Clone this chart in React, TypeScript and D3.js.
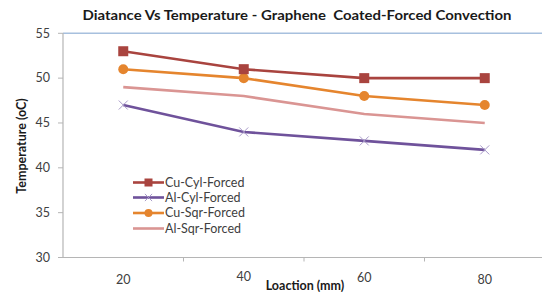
import React from "react";
import * as d3 from "d3";

const categories = ["20", "40", "60", "80"];
const yTicks = [30, 35, 40, 45, 50, 55];
const cuCyl = [53, 51, 50, 50];
const alCyl = [47, 44, 43, 42];
const cuSqr = [51, 50, 48, 47];
const alSqr = [49, 48, 46, 45];
const seriesNames = ["Cu-Cyl-Forced", "Al-Cyl-Forced", "Cu-Sqr-Forced", "Al-Sqr-Forced"];

const W = 543, H = 292;
const left = 63, right = 545, top = 33.3, bottom = 257.5;
const FONT = "Lato, 'Liberation Sans', sans-serif";

export default function App() {
  const x = d3.scaleBand<string>().domain(categories).range([left, right]);
  const y = d3.scaleLinear().domain([30, 55]).range([bottom, top]);
  const cx = (c: string) => (x(c) as number) + x.bandwidth() / 2;
  const line = d3.line<number>().x((_, i) => cx(categories[i])).y((d) => y(d));

  const series = [
    { name: seriesNames[0], data: cuCyl, color: "#A9443F", marker: "square" },
    { name: seriesNames[1], data: alCyl, color: "#6F529B", marker: "cross" },
    { name: seriesNames[2], data: cuSqr, color: "#E5852E", marker: "circle" },
    { name: seriesNames[3], data: alSqr, color: "#DA9593", marker: "none" },
  ];
  const drawOrder = [3, 1, 2, 0];

  const marker = (m: string, color: string, px: number, py: number, key: string, s = 1) => {
    if (m === "square") return <rect key={key} x={px - 5 * s} y={py - 5 * s} width={10 * s} height={10 * s} fill={color} />;
    if (m === "circle") return <circle key={key} cx={px} cy={py} r={5 * s} fill={color} />;
    if (m === "cross")
      return (
        <g key={key} stroke="#A99BC9" strokeWidth={1}>
          <line x1={px - 4.5 * s} y1={py - 4.5 * s} x2={px + 4.5 * s} y2={py + 4.5 * s} />
          <line x1={px - 4.5 * s} y1={py + 4.5 * s} x2={px + 4.5 * s} y2={py - 4.5 * s} />
        </g>
      );
    return null;
  };

  const legendY = [182.5, 197.5, 213, 228.5];

  return (
    <svg width={W} height={H} style={{ position: "absolute", left: 0, top: 0 }} fontFamily={FONT}>
      <rect width={W} height={H} fill="#fff" />
      <text x={297} y={20} textAnchor="middle" fontSize={13.5} fontWeight="bold" fill="#1a1a1a"
        textLength={429} lengthAdjust="spacingAndGlyphs" style={{ whiteSpace: "pre" }}>
        {"Diatance Vs Temperature - Graphene  Coated-Forced Convection"}
      </text>
      {/* top border */}
      <line x1={left} x2={542} y1={top} y2={top} stroke="#A7C0DE" strokeWidth={1.5} />
      {/* axes */}
      <line x1={left} x2={left} y1={top} y2={bottom} stroke="#B5B5B5" strokeWidth={1.2} />
      <line x1={left} x2={542} y1={bottom} y2={bottom} stroke="#B5B5B5" strokeWidth={1.2} />
      {yTicks.map((t) => (
        <g key={t}>
          <line x1={left - 5} x2={left} y1={y(t)} y2={y(t)} stroke="#B5B5B5" />
          <text x={50} y={y(t) + 4.3} textAnchor="end" fontSize={12.5} fill="#404040">{t}</text>
        </g>
      ))}
      {categories.slice(1).map((c) => (
        <line key={c} x1={x(c)} x2={x(c)} y1={bottom} y2={bottom + 4} stroke="#B5B5B5" />
      ))}
      {categories.map((c, i) => (
        <text key={c} x={cx(c)} y={[284, 281, 282, 284][i]} textAnchor="middle" fontSize={12.5} fill="#404040">{c}</text>
      ))}
      <text x={305} y={290} textAnchor="middle" fontSize={12.5} fontWeight="bold" fill="#1a1a1a">Loaction (mm)</text>
      <text transform={`translate(26,146) rotate(-90)`} textAnchor="middle" fontSize={12.5} fontWeight="bold" fill="#1a1a1a">
        Temperature (oC)
      </text>
      {drawOrder.map((si) => {
        const s = series[si];
        return (
          <g key={s.name}>
            <path d={line(s.data) as string} fill="none" stroke={s.color} strokeWidth={2.6} />
            {s.data.map((v, i) => marker(s.marker, s.color, cx(categories[i]), y(v), s.name + i))}
          </g>
        );
      })}
      {series.map((s, i) => (
        <g key={"lg" + s.name}>
          <line x1={133} x2={164} y1={legendY[i]} y2={legendY[i]} stroke={s.color} strokeWidth={2.6} />
          {marker(s.marker, s.color, 148.5, legendY[i], "lm" + i, 0.8)}
          <text x={165} y={legendY[i] + 4.3} fontSize={12.5} fill="#404040">{s.name}</text>
        </g>
      ))}
    </svg>
  );
}
